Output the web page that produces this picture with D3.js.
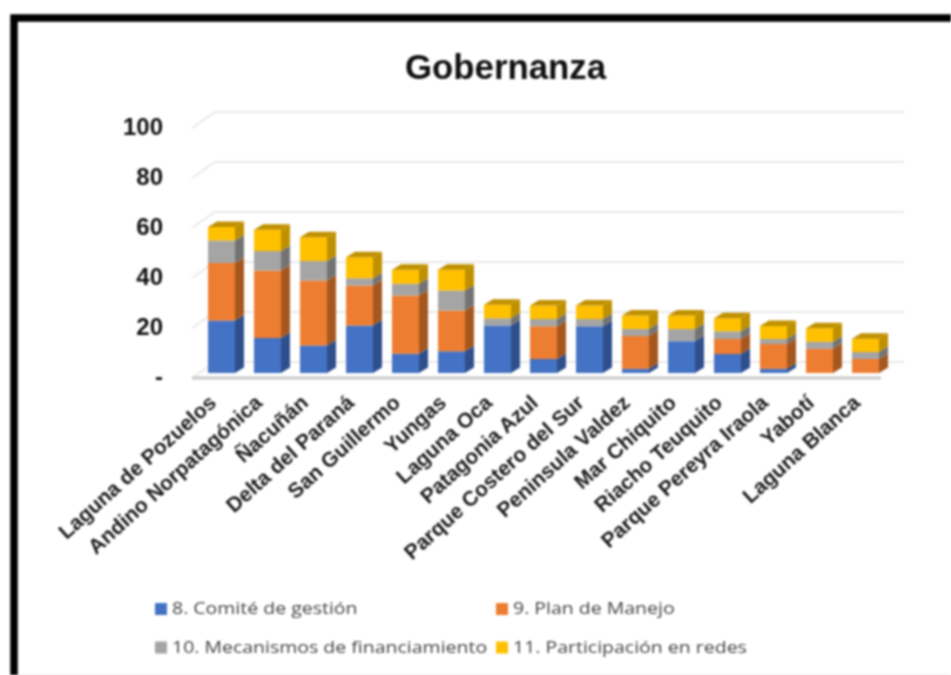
<!DOCTYPE html>
<html><head><meta charset="utf-8">
<script src="https://cdn.jsdelivr.net/npm/d3@7"></script>
<style>html,body{margin:0;padding:0;background:#fff}svg{display:block;filter:blur(0.9px)}</style>
</head><body><svg id="c" width="951" height="675"></svg>
<script>
const title = "Gobernanza";
const categories = ["Laguna de Pozuelos","Andino Norpatagónica","Ñacuñán","Delta del Paraná","San Guillermo","Yungas","Laguna Oca","Patagonia Azul","Parque Costero del Sur","Peninsula Valdez","Mar Chiquito","Riacho Teuquito","Parque Pereyra Iraola","Yabotí","Laguna Blanca"];
const seriesNames = ["8. Comité de gestión","9. Plan de Manejo","10. Mecanismos de financiamiento","11. Participación en redes"];
const comite = [21,14,11,19,7.7,8.7,19,5.6,18.7,1.7,12.7,7.6,1.7,0,0];
const plan = [23,27,26,16,23.3,16.3,0,13.1,0,13.1,0,6,9.9,9.7,5.6];
const mecanismos = [9,7.8,7.8,2.9,4.7,8,2.9,2.9,2.9,2.8,4.9,3.1,2,2.8,2.8];
const redes = [5.4,8.5,9.5,8.4,5.6,8.3,5.4,5.4,5.4,5.4,5.4,5.2,5.2,5.4,5.3];
const tickValues = [0,20,40,60,80,100];
const frontColors = ["#4472C4","#ED7D31","#A5A5A5","#FFC000"];
const sideColors = ["#2E4F8C","#A5571F","#737373","#BF9000"];

const svg = d3.select("#c");
const font = "'Liberation Sans',Arial,sans-serif";
const y = d3.scaleLinear().domain([0,100]).range([378,128]);
const x = d3.scaleBand().domain(categories).range([185,902]).paddingInner(0.413).paddingOuter(0.5);
const color = d3.scaleOrdinal().domain(seriesNames).range(frontColors);
const side = d3.scaleOrdinal().domain(seriesNames).range(sideColors);
const gridDx = 23, gridDy = 16, barDx = 9, barDy = 5.5, barLift = 5;

// frame
svg.append("path").attr("d","M14,675V18H951").attr("fill","none").attr("stroke","#000").attr("stroke-width",7.5);
svg.append("line").attr("x1",18).attr("x2",951).attr("y1",674.5).attr("y2",674.5).attr("stroke","#eee").attr("stroke-width",1);

svg.append("text").attr("x",505.5).attr("y",79).attr("text-anchor","middle")
  .attr("font-family",font).attr("font-weight",700).attr("font-size",34.8).attr("fill","#111").text(title);

// gridlines
const grid = svg.append("g").attr("fill","none").attr("stroke","#e9e9e9").attr("stroke-width",2);
grid.selectAll("path").data(tickValues).join("path")
  .attr("d",t=>`M192,${y(t)}L${192+gridDx},${y(t)-gridDy}H904`);
svg.append("line").attr("x1",192).attr("x2",881).attr("y1",y(0)).attr("y2",y(0))
  .attr("stroke","#c9c9c9").attr("stroke-width",3);

// axis
const axis = d3.axisLeft(y).tickValues(tickValues).tickSize(0).tickPadding(0)
  .tickFormat(d=>d===0?"-":d3.format("d")(d));
const ag = svg.append("g").attr("transform","translate(163,-1)").call(axis);
ag.select(".domain").remove();
ag.selectAll("text").attr("font-family",font).attr("font-weight",700).attr("font-size",24).attr("fill","#111");

// stacked 3D bars
const rows = categories.map((c,i)=>({c,[seriesNames[0]]:comite[i],[seriesNames[1]]:plan[i],[seriesNames[2]]:mecanismos[i],[seriesNames[3]]:redes[i]}));
const stacked = d3.stack().keys(seriesNames)(rows);
const by = v => y(v)-barLift;
const w = x.bandwidth();
categories.forEach((c,i)=>{
  const g = svg.append("g");
  const x0 = x(c);
  stacked.forEach(s=>{
    const [a,b] = s[i];
    if(b-a<=0) return;
    g.append("path").attr("fill",side(s.key))
      .attr("d",`M${x0+w},${by(a)}l${barDx},${-barDy}V${by(b)-barDy}l${-barDx},${barDy}Z`);
    g.append("rect").attr("x",x0).attr("width",w).attr("y",by(b)).attr("height",by(a)-by(b)).attr("fill",color(s.key));
  });
  const top = stacked[3][i][1];
  g.append("path").attr("fill",sideColors[3])
    .attr("d",`M${x0},${by(top)}l${barDx},${-barDy}h${w}l${-barDx},${barDy}Z`);
});

// category labels
svg.append("g").selectAll("text").data(categories).join("text")
  .attr("transform",d=>`translate(${x(d)+w/2-9},399) rotate(-42)`)
  .attr("text-anchor","end").attr("dy","0.35em")
  .attr("font-family",font).attr("font-weight",700).attr("font-size",21).attr("fill","#1a1a1a")
  .text(d=>d);

// legend
const legendX = [155,496], legendY = [609,647.5];
seriesNames.forEach((n,i)=>{
  const lx = legendX[i%2], ly = legendY[Math.floor(i/2)];
  svg.append("rect").attr("x",lx).attr("y",ly-6).attr("width",12).attr("height",12).attr("fill",frontColors[i]);
  svg.append("text").attr("transform",`translate(${lx+17},${ly+5}) scale(1.147,1)`).attr("font-family","'Open Sans',sans-serif")
    .attr("font-size",17).attr("fill","#444").text(n);
});
</script></body></html>
